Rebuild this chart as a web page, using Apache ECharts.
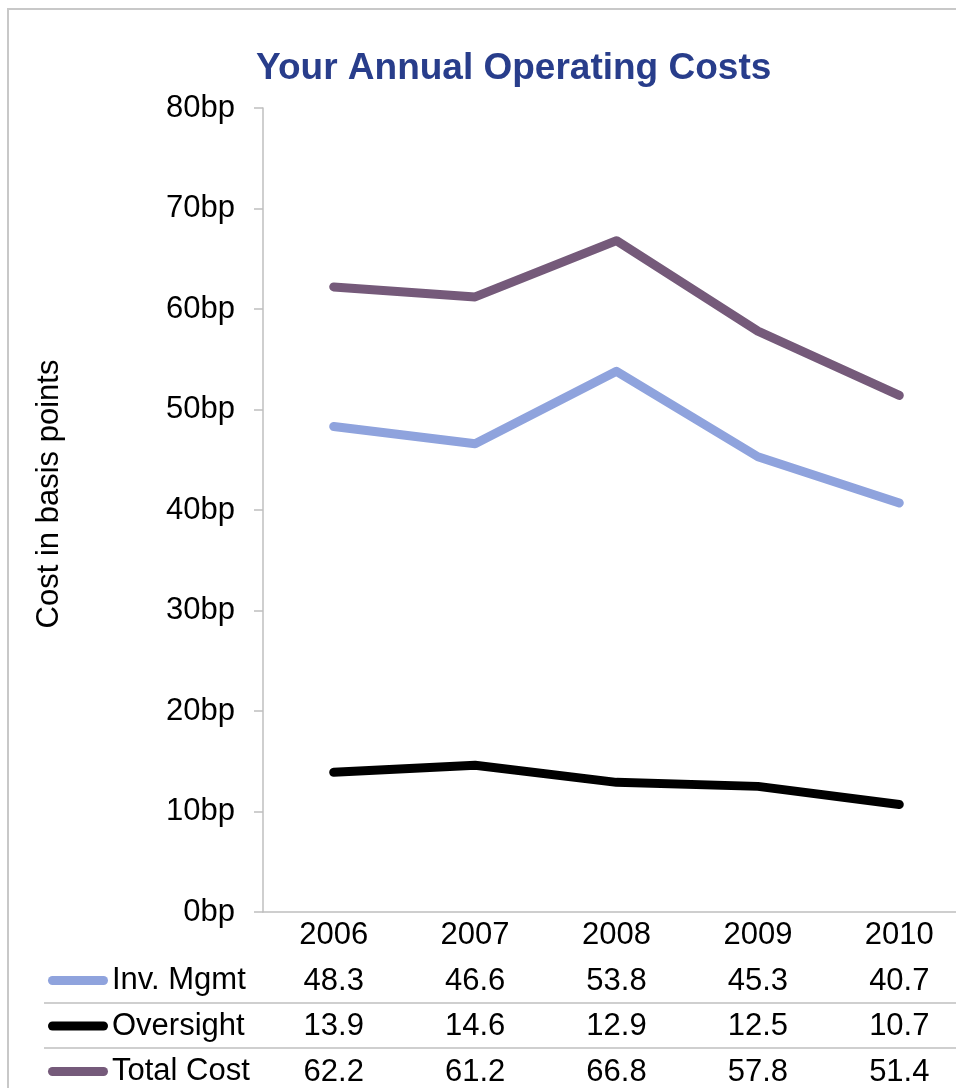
<!DOCTYPE html>
<html>
<head>
<meta charset="utf-8">
<title>Your Annual Operating Costs</title>
<script src="https://cdn.jsdelivr.net/npm/echarts@6/dist/echarts.min.js"></script>
<style>
  html, body { margin: 0; padding: 0; background: #fff; }
  #chart { width: 956px; height: 1088px; }
</style>
</head>
<body>
<div id="chart"></div>
<script>
// Annual operating costs, in basis points
const years = ['2006', '2007', '2008', '2009', '2010'];
const invMgmt = [48.3, 46.6, 53.8, 45.3, 40.7];
const oversight = [13.9, 14.6, 12.9, 12.5, 10.7];
const totalCost = [62.2, 61.2, 66.8, 57.8, 51.4];
const seriesNames = ['Inv. Mgmt', 'Oversight', 'Total Cost'];
const yTicks = { min: 0, max: 80, step: 10, unit: 'bp' };

const colors = ['#8fa3dd', '#000000', '#755a7a'];
const font = 'Arial, "Liberation Sans", sans-serif';
const gridLine = '#bfbfbf';
const FS = 31;

const seriesData = [invMgmt, oversight, totalCost];
const ROW = 45.5;
const TABLE_TOP = 965;

// one extra category axis per table row, showing that row's values
const tableAxes = seriesData.map((vals, i) => ({
  type: 'category',
  data: years,
  gridIndex: 0,
  position: 'bottom',
  offset: ROW * (i + 1),
  axisLine: { show: false },
  axisTick: { show: false },
  axisLabel: {
    margin: 8,
    fontSize: FS,
    fontFamily: font,
    color: '#000',
    formatter: (v, idx) => vals[idx].toFixed(1)
  }
}));

const capsule = 'path://M4.5,0 H55.5 A4.5,4.5 0 0 1 55.5,9 H4.5 A4.5,4.5 0 0 1 4.5,0 Z';

// row headers: a single-item legend per table row
const legends = seriesNames.map((name, i) => ({
  orient: 'horizontal',
  left: 48,
  top: TABLE_TOP + ROW * i,
  padding: 0,
  itemWidth: 60,
  itemHeight: 9,
  icon: capsule,
  data: [name],
  selectedMode: false,
  textStyle: { fontSize: FS, fontFamily: font, color: '#000', padding: [0, 0, 0, -1] }
}));

const chart = echarts.init(document.getElementById('chart'), null, { renderer: 'canvas' });
chart.setOption({
  backgroundColor: '#fff',
  animation: false,
  title: {
    text: 'Your Annual Operating Costs',
    left: 256,
    top: 50,
    padding: 0,
    textStyle: { color: '#283d8b', fontSize: 37, fontWeight: 'bold', fontFamily: font }
  },
  legend: legends,
  grid: { left: 263, top: 108, width: 707, height: 804, containLabel: false, outerBoundsMode: 'none' },
  xAxis: [{
    type: 'category',
    data: years,
    boundaryGap: true,
    axisLine: { lineStyle: { color: gridLine, width: 1.5 } },
    axisTick: { show: false },
    axisLabel: { margin: 8, fontSize: FS, fontFamily: font, color: '#000' }
  }].concat(tableAxes),
  yAxis: {
    type: 'value',
    min: yTicks.min,
    max: yTicks.max,
    interval: yTicks.step,
    name: 'Cost in basis points',
    nameLocation: 'middle',
    nameRotate: 90,
    nameGap: 198,
    nameTextStyle: { fontSize: FS, fontFamily: font, color: '#000', padding: [0, 0, 0, 32] },
    axisLine: { show: true, lineStyle: { color: gridLine, width: 1.5 } },
    axisTick: { show: true, inside: false, length: 9, lineStyle: { color: gridLine, width: 1.5 } },
    splitLine: { show: false },
    axisLabel: {
      margin: 28,
      fontSize: FS,
      fontFamily: font,
      color: '#000',
      formatter: v => v + yTicks.unit
    }
  },
  series: seriesNames.map((name, i) => ({
    name,
    type: 'line',
    data: seriesData[i],
    symbol: 'none',
    color: colors[i],
    lineStyle: { width: 9, color: colors[i], cap: 'round', join: 'round' },
    itemStyle: { color: colors[i] },
    z: 3 - i
  })),
  graphic: [
    // outer frame
    { type: 'rect', shape: { x: 8, y: 9, width: 1000, height: 1200 },
      style: { fill: 'none', stroke: '#c8c8c8', lineWidth: 2 }, silent: true },
    // table row separators
    { type: 'line', shape: { x1: 44, y1: 1003, x2: 960, y2: 1003 },
      style: { stroke: gridLine, lineWidth: 1.5 }, silent: true },
    { type: 'line', shape: { x1: 44, y1: 1048, x2: 960, y2: 1048 },
      style: { stroke: gridLine, lineWidth: 1.5 }, silent: true }
  ]
});
</script>
</body>
</html>
